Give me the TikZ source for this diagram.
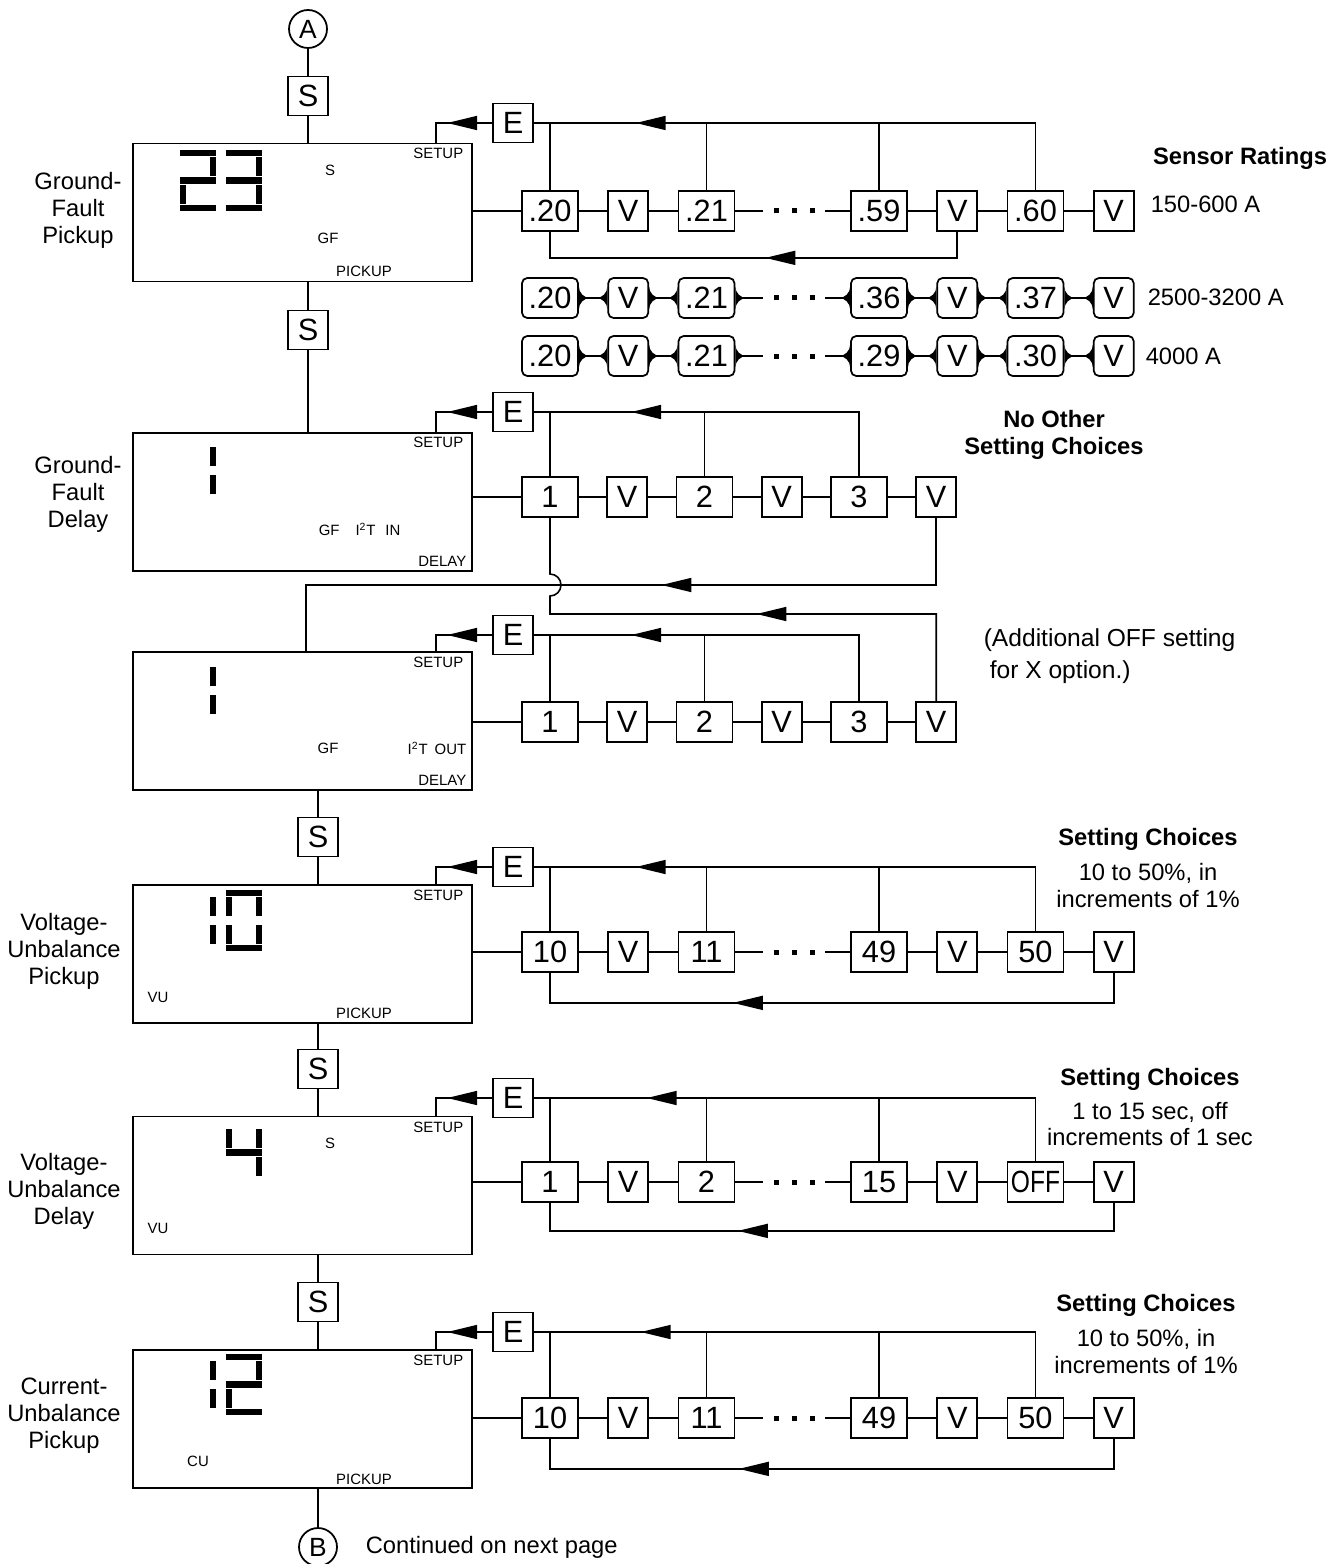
\documentclass[tikz,border=0pt]{standalone}
\usepackage{fontspec}
\setmainfont{Liberation Sans}
\usetikzlibrary{arrows.meta, positioning, decorations.markings}

% concave joint where a line meets a rounded key
\pgfdeclarearrow{
  name = Flare,
  setup code = {
    \pgfarrowssettipend{0pt}
    \pgfarrowssetlineend{-2pt}
    \pgfarrowssetbackend{-6.5pt}
    \pgfarrowshullpoint{0pt}{6.5pt}
    \pgfarrowshullpoint{0pt}{-6.5pt}
    \pgfarrowshullpoint{-6.5pt}{0pt}
  },
  drawing code = {
    \pgfpathmoveto{\pgfqpoint{0pt}{6.5pt}}
    \pgfpatharc{0}{-90}{6.5pt}
    \pgfpatharc{90}{0}{6.5pt}
    \pgfpathclose
    \pgfusepathqfill
  },
}

% seven segment parts, #1 = left x, #2 = top y (px)
\newcommand{\sega}[2]{\draw[segment] (#1,#2+3) -- (#1+36,#2+3);}
\newcommand{\segb}[2]{\draw[segment] (#1+33,#2+7) -- (#1+33,#2+26);}
\newcommand{\segc}[2]{\draw[segment] (#1+33,#2+35) -- (#1+33,#2+54);}
\newcommand{\segd}[2]{\draw[segment] (#1,#2+58) -- (#1+36,#2+58);}
\newcommand{\sege}[2]{\draw[segment] (#1+3,#2+35) -- (#1+3,#2+54);}
\newcommand{\segf}[2]{\draw[segment] (#1+3,#2+7) -- (#1+3,#2+26);}
\newcommand{\segg}[2]{\draw[segment] (#1,#2+30.5) -- (#1+36,#2+30.5);}
\newcommand{\lcddigit}[3]{\foreach \sg in {#3}{\csname seg\sg\endcsname{#1}{#2}}}
\newcommand{\threedots}{\rule{0.1cm}{0.1cm}\hspace{0.26cm}\rule{0.1cm}{0.1cm}\hspace{0.26cm}\rule{0.1cm}{0.1cm}}

\begin{document}
\begin{tikzpicture}[
        x=0.02cm, y=-0.02cm,
        font=\fontsize{13.5}{15.3}\selectfont,
        line width=0.9pt,
        node distance=0.57cm,
        lcd/.style={draw, line width=1pt, minimum width=6.78cm, minimum height=2.76cm, inner sep=0},
        num/.style={draw, line width=1pt, minimum width=1.12cm, minimum height=0.8cm, inner sep=0, font=\fontsize{17.5}{18}\selectfont},
        vkey/.style={num, minimum width=0.8cm},
        key/.style={num, minimum width=0.8cm, minimum height=0.78cm},
        tab/.style={num, rounded corners=3pt},
        vtab/.style={vkey, rounded corners=3pt},
        conn/.style={circle, draw, line width=1pt, minimum size=0.76cm, inner sep=0, font=\fontsize{15}{15}\selectfont},
        lcdtxt/.style={inner sep=0, font=\fontsize{8.5}{9}\selectfont},
        etc/.style={inner xsep=0.2cm, inner ysep=0},
        lbl/.style={align=center, inner sep=0},
        head/.style={align=center, inner sep=0, font=\fontsize{13.5}{15.3}\selectfont\bfseries},
        segment/.style={line width=0.13cm},
        flow/.style={postaction={decorate}, decoration={markings, mark=at position #1 with {\arrow{Triangle[length=0.6cm,width=0.28cm]}}}}
    ]
        \useasboundingbox (0,0) rectangle (1339,1564);

        % main column
        \node[conn] (ca) at (308,29) {A};
        \node[key] (s1) at (308,96) {S};
        \node[lcd] (lcdgfp) at (302.5,212.5) {};
        \node[key] (s2) at (308,330) {S};
        \node[lcd] (lcdgfi) at (302.5,502) {};
        \node[lcd] (lcdgfo) at (302.5,721) {};
        \node[key] (s3) at (318,837) {S};
        \node[lcd] (lcdvup) at (302.5,954) {};
        \node[key] (s4) at (318,1069) {S};
        \node[lcd] (lcdvud) at (302.5,1185.5) {};
        \node[key] (s5) at (318,1302) {S};
        \node[lcd] (lcdcup) at (302.5,1419) {};
        \node[conn] (cb) at (318,1547) {B};
        \node[anchor=west, inner sep=0] (cont) at (365,1547) {Continued on next page};

        \draw (ca) -- (s1) -- (s1 |- lcdgfp.north);
        \draw (s2 |- lcdgfp.south) -- (s2) -- (s2 |- lcdgfi.north);
        \draw (s3 |- lcdgfo.south) -- (s3) -- (s3 |- lcdvup.north);
        \draw (s4 |- lcdvup.south) -- (s4) -- (s4 |- lcdvud.north);
        \draw (s5 |- lcdvud.south) -- (s5) -- (s5 |- lcdcup.north);
        \draw (cb |- lcdcup.south) -- (cb);

        % left labels
        \node[lbl] (tgfp) at (78,210) {Ground-\\Fault\\Pickup};
        \node[lbl] (tgfd) at (78,494) {Ground-\\Fault\\Delay};
        \node[lbl] (tvup) at (64,951) {Voltage-\\Unbalance\\Pickup};
        \node[lbl] (tvud) at (64,1191) {Voltage-\\Unbalance\\Delay};
        \node[lbl] (tcup) at (64,1416) {Current-\\Unbalance\\Pickup};

        % display contents
        \lcddigit{180}{150}{a,b,g,e,d}
        \lcddigit{226}{150}{a,b,g,c,d}
        \node[lcdtxt] (gfps) at (330,170) {S};
        \node[lcdtxt] (gfpgf) at (328,238) {GF};
        \node[lcdtxt, anchor=east] (gfpsetup) at (464,153) {SETUP};
        \node[lcdtxt] (gfppick) at (364,271) {PICKUP};

        \lcddigit{180}{440}{b,c}
        \node[lcdtxt, anchor=east] (gfisetup) at (464,442) {SETUP};
        \node[lcdtxt, anchor=west] (gfigf) at (318,529) {GF\hspace{0.32cm}I\textsuperscript{2}T\hspace{0.2cm}IN};
        \node[lcdtxt, anchor=east] (gfidelay) at (467,561) {DELAY};

        \lcddigit{180}{660}{b,c}
        \node[lcdtxt, anchor=east] (gfosetup) at (464,662) {SETUP};
        \node[lcdtxt] (gfogf) at (328,748) {GF};
        \node[lcdtxt, anchor=east] (gfoout) at (467,748) {I\textsuperscript{2}T\hspace{0.14cm}OUT};
        \node[lcdtxt, anchor=east] (gfodelay) at (467,780) {DELAY};

        \lcddigit{180}{890}{b,c}
        \lcddigit{226}{890}{a,b,c,d,e,f}
        \node[lcdtxt, anchor=east] (vupsetup) at (464,895) {SETUP};
        \node[lcdtxt] (vupvu) at (158,997) {VU};
        \node[lcdtxt] (vuppick) at (364,1013) {PICKUP};

        \lcddigit{226}{1122}{f,g,b,c}
        \node[lcdtxt, anchor=east] (vudsetup) at (464,1127) {SETUP};
        \node[lcdtxt] (vuds) at (330,1143) {S};
        \node[lcdtxt] (vudvu) at (158,1228) {VU};

        \lcddigit{180}{1354}{b,c}
        \lcddigit{226}{1354}{a,b,g,e,d}
        \node[lcdtxt, anchor=east] (cupsetup) at (464,1360) {SETUP};
        \node[lcdtxt] (cupcu) at (198,1461) {CU};
        \node[lcdtxt] (cuppick) at (364,1479) {PICKUP};

        % ground-fault pickup
        \node[key] (gfpE) at (513,123) {E};
        \node[num] (gfp1) at (550,211) {.20};
        \node[vkey, right=of gfp1] (gfp2) {V};
        \node[num, right=of gfp2] (gfp3) {.21};
        \node[etc] (gfpdots) at (794,211) {\threedots};
        \node[num] (gfp4) at (879,211) {.59};
        \node[vkey, right=of gfp4] (gfp5) {V};
        \node[num, right=of gfp5] (gfp6) {.60};
        \node[vkey, right=of gfp6] (gfp7) {V};

        \draw (lcdgfp.east |- gfp1) -- (gfp1) -- (gfp2) -- (gfp3) -- (gfpdots) -- (gfp4) -- (gfp5) -- (gfp6) -- (gfp7);
        \draw[flow=0.9cm] (gfpE.west) -| ([xshift=-0.74cm]lcdgfp.north east);
        \draw[flow=9.34cm] (gfp6.north) |- (gfpE.east);
        \draw (gfp1.north) -- (gfp1 |- gfpE);
        \draw (gfp3.north) -- (gfp3 |- gfpE);
        \draw (gfp4.north) -- (gfp4 |- gfpE);
        \draw[flow=4.36cm] (gfp5.south) -- ++(0,26) -| (gfp1.south);

        % other sensor ratings
        \node[tab] (gfpb1) at (550,298) {.20};
        \node[vtab, right=of gfpb1] (gfpb2) {V};
        \node[tab, right=of gfpb2] (gfpb3) {.21};
        \node[etc] (gfpbdots) at (794,298) {\threedots};
        \node[tab] (gfpb4) at (879,298) {.36};
        \node[vtab, right=of gfpb4] (gfpb5) {V};
        \node[tab, right=of gfpb5] (gfpb6) {.37};
        \node[vtab, right=of gfpb6] (gfpb7) {V};
        \draw[Flare-Flare] (gfpb1) edge (gfpb2) (gfpb2) edge (gfpb3) (gfpb4) edge (gfpb5) (gfpb5) edge (gfpb6) (gfpb6) edge (gfpb7);
        \draw[Flare-] (gfpb3) -- (gfpbdots);
        \draw[-Flare] (gfpbdots) -- (gfpb4);

        \node[tab] (gfpc1) at (550,356) {.20};
        \node[vtab, right=of gfpc1] (gfpc2) {V};
        \node[tab, right=of gfpc2] (gfpc3) {.21};
        \node[etc] (gfpcdots) at (794,356) {\threedots};
        \node[tab] (gfpc4) at (879,356) {.29};
        \node[vtab, right=of gfpc4] (gfpc5) {V};
        \node[tab, right=of gfpc5] (gfpc6) {.30};
        \node[vtab, right=of gfpc6] (gfpc7) {V};
        \draw[Flare-Flare] (gfpc1) edge (gfpc2) (gfpc2) edge (gfpc3) (gfpc4) edge (gfpc5) (gfpc5) edge (gfpc6) (gfpc6) edge (gfpc7);
        \draw[Flare-] (gfpc3) -- (gfpcdots);
        \draw[-Flare] (gfpcdots) -- (gfpc4);

        \node[head] (sensor) at (1240,158) {Sensor Ratings};
        \node[anchor=west, inner sep=0] (r150) at (1150,204) {150-600 A};
        \node[anchor=west, inner sep=0] (r2500) at (1147,297) {2500-3200 A};
        \node[anchor=west, inner sep=0] (r4000) at (1145,356) {4000 A};

        % ground-fault delay, I2T in
        \node[key] (gfiE) at (513,412) {E};
        \node[num] (gfi1) at (550,497) {1};
        \node[vkey, right=0.55cm of gfi1] (gfi2) {V};
        \node[num, right=0.55cm of gfi2] (gfi3) {2};
        \node[vkey, right=0.55cm of gfi3] (gfi4) {V};
        \node[num, right=0.55cm of gfi4] (gfi5) {3};
        \node[vkey, right=0.55cm of gfi5] (gfi6) {V};

        \draw (lcdgfi.east |- gfi1) -- (gfi1) -- (gfi2) -- (gfi3) -- (gfi4) -- (gfi5) -- (gfi6);
        \draw[flow=0.9cm] (gfiE.west) -| ([xshift=-0.74cm]lcdgfi.north east);
        \draw[flow=5.84cm] (gfi5.north) |- (gfiE.east);
        \draw (gfi1.north) -- (gfi1 |- gfiE);
        \draw (gfi3.north) -- (gfi3 |- gfiE);
        \coordinate (gfiback) at (306,585);
        \draw[flow=6.84cm] (gfi6.south) |- (gfiback) -- (gfiback |- lcdgfo.north);

        \node[head] (noother) at (1054,435) {No Other\\Setting Choices};

        % ground-fault delay, I2T out
        \node[key] (gfoE) at (513,635) {E};
        \node[num] (gfo1) at (550,722) {1};
        \node[vkey, right=0.55cm of gfo1] (gfo2) {V};
        \node[num, right=0.55cm of gfo2] (gfo3) {2};
        \node[vkey, right=0.55cm of gfo3] (gfo4) {V};
        \node[num, right=0.55cm of gfo4] (gfo5) {3};
        \node[vkey, right=0.55cm of gfo5] (gfo6) {V};

        \draw (lcdgfo.east |- gfo1) -- (gfo1) -- (gfo2) -- (gfo3) -- (gfo4) -- (gfo5) -- (gfo6);
        \draw[flow=0.9cm] (gfoE.west) -| ([xshift=-0.74cm]lcdgfo.north east);
        \draw[flow=5.88cm] (gfo5.north) |- (gfoE.east);
        \draw (gfo1.north) -- (gfo1 |- gfoE);
        \draw (gfo3.north) -- (gfo3 |- gfoE);
        \coordinate (gfoback) at (550,614);
        \draw[flow=5.34cm] (gfo6.north) |- (gfoback) -- ++(0,-18) arc[start angle=-90, end angle=90, radius=0.22cm] -- (gfi1.south);

        \node[anchor=west, align=left, inner sep=0, font=\fontsize{14}{18}\selectfont] (addoff) at (983,656) {(Additional OFF setting\\\hspace{0.12cm}for X option.)};

        % voltage-unbalance pickup
        \node[key] (vupE) at (513,867) {E};
        \node[num] (vup1) at (550,952) {10};
        \node[vkey, right=of vup1] (vup2) {V};
        \node[num, right=of vup2] (vup3) {11};
        \node[etc] (vupdots) at (794,952) {\threedots};
        \node[num] (vup4) at (879,952) {49};
        \node[vkey, right=of vup4] (vup5) {V};
        \node[num, right=of vup5] (vup6) {50};
        \node[vkey, right=of vup6] (vup7) {V};

        \draw (lcdvup.east |- vup1) -- (vup1) -- (vup2) -- (vup3) -- (vupdots) -- (vup4) -- (vup5) -- (vup6) -- (vup7);
        \draw[flow=0.9cm] (vupE.west) -| ([xshift=-0.74cm]lcdvup.north east);
        \draw[flow=9.28cm] (vup6.north) |- (vupE.east);
        \draw (vup1.north) -- (vup1 |- vupE);
        \draw (vup3.north) -- (vup3 |- vupE);
        \draw (vup4.north) -- (vup4 |- vupE);
        \draw[flow=8.22cm] (vup7.south) -- ++(0,30) -| (vup1.south);

        \node[lbl] (vupset) at (1148,868) {\textbf{Setting Choices}\\[5pt]10 to 50\%, in\\increments of 1\%};

        % voltage-unbalance delay
        \node[key] (vudE) at (513,1098) {E};
        \node[num] (vud1) at (550,1182) {1};
        \node[vkey, right=of vud1] (vud2) {V};
        \node[num, right=of vud2] (vud3) {2};
        \node[etc] (vuddots) at (794,1182) {\threedots};
        \node[num] (vud4) at (879,1182) {15};
        \node[vkey, right=of vud4] (vud5) {V};
        \node[num, right=of vud5] (vud6) {\scalebox{0.8}[1]{OFF}};
        \node[vkey, right=of vud6] (vud7) {V};

        \draw (lcdvud.east |- vud1) -- (vud1) -- (vud2) -- (vud3) -- (vuddots) -- (vud4) -- (vud5) -- (vud6) -- (vud7);
        \draw[flow=0.9cm] (vudE.west) -| ([xshift=-0.74cm]lcdvud.north east);
        \draw[flow=9.04cm] (vud6.north) |- (vudE.east);
        \draw (vud1.north) -- (vud1 |- vudE);
        \draw (vud3.north) -- (vud3 |- vudE);
        \draw (vud4.north) -- (vud4 |- vudE);
        \draw[flow=8.08cm] (vud7.south) -- ++(0,28) -| (vud1.south);

        \node[lbl] (vudset) at (1150,1107) {\textbf{Setting Choices}\\[4pt]1 to 15 sec, off\\increments of 1 sec};

        % current-unbalance pickup
        \node[key] (cupE) at (513,1332) {E};
        \node[num] (cup1) at (550,1418) {10};
        \node[vkey, right=of cup1] (cup2) {V};
        \node[num, right=of cup2] (cup3) {11};
        \node[etc] (cupdots) at (794,1418) {\threedots};
        \node[num] (cup4) at (879,1418) {49};
        \node[vkey, right=of cup4] (cup5) {V};
        \node[num, right=of cup5] (cup6) {50};
        \node[vkey, right=of cup6] (cup7) {V};

        \draw (lcdcup.east |- cup1) -- (cup1) -- (cup2) -- (cup3) -- (cupdots) -- (cup4) -- (cup5) -- (cup6) -- (cup7);
        \draw[flow=0.9cm] (cupE.west) -| ([xshift=-0.74cm]lcdcup.north east);
        \draw[flow=9.2cm] (cup6.north) |- (cupE.east);
        \draw (cup1.north) -- (cup1 |- cupE);
        \draw (cup3.north) -- (cup3 |- cupE);
        \draw (cup4.north) -- (cup4 |- cupE);
        \draw[flow=8.1cm] (cup7.south) -- ++(0,30) -| (cup1.south);

        \node[lbl] (cupset) at (1146,1334) {\textbf{Setting Choices}\\[5pt]10 to 50\%, in\\increments of 1\%};
    \end{tikzpicture}
\end{document}
